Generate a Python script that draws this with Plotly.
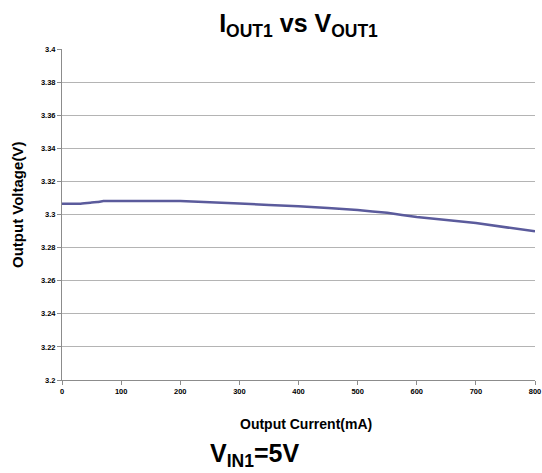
import plotly.graph_objects as go

current_ma = [0, 30, 50, 60, 70, 100, 200, 300, 400, 500, 550, 600, 700, 800]
voltage_v = [3.3065, 3.3065, 3.3073, 3.3075, 3.3081, 3.3081, 3.3081, 3.3066, 3.3050, 3.3027, 3.3010, 3.2985, 3.2948, 3.2898]

x_ticks = [0, 100, 200, 300, 400, 500, 600, 700, 800]
y_ticks = [3.2, 3.22, 3.24, 3.26, 3.28, 3.3, 3.32, 3.34, 3.36, 3.38, 3.4]
y_tick_labels = ["3.2", "3.22", "3.24", "3.26", "3.28", "3.3", "3.32", "3.34", "3.36", "3.38", "3.4"]

FONT = "Liberation Sans, Arial, sans-serif"

fig = go.Figure()
fig.add_trace(go.Scatter(
    x=current_ma, y=voltage_v, mode="lines",
    line=dict(color="#5b5b9c", width=2.5, shape="spline", smoothing=0.3),
    showlegend=False, hoverinfo="skip",
))

fig.update_layout(
    width=542, height=473,
    margin=dict(l=62, r=7, t=49, b=93),
    paper_bgcolor="white", plot_bgcolor="white",
    font=dict(family=FONT, color="black"),
    title=dict(
        text="<b>I<sub>OUT1</sub> vs V<sub>OUT1</sub></b>",
        font=dict(family=FONT, size=25, color="black"),
        x=0.5, xref="paper", xanchor="center",
        y=1 - 23 / 473, yref="container", yanchor="middle",
    ),
    showlegend=False,
)

fig.update_xaxes(
    range=[0, 800], tickvals=x_ticks, ticktext=[f"<b>{t}</b>" for t in x_ticks],
    tickfont=dict(family=FONT, size=7.5, color="black"),
    ticklabeloverflow="allow", automargin=False,
    showgrid=False, zeroline=False,
    showline=True, linecolor="#8c8c8c", linewidth=1,
    ticks="outside", ticklen=4, tickcolor="#8c8c8c",
    fixedrange=True,
)
fig.update_yaxes(
    range=[3.2, 3.4], tickvals=y_ticks, ticktext=[f"<b>{t}</b>" for t in y_tick_labels],
    tickfont=dict(family=FONT, size=7.5, color="black"),
    automargin=False,
    showgrid=True, gridcolor="#b4b4b4", gridwidth=1,
    zeroline=False,
    showline=True, linecolor="#8c8c8c", linewidth=1,
    ticks="outside", ticklen=4, tickcolor="#8c8c8c",
    fixedrange=True,
)

fig.add_annotation(
    text="<b>Output Current(mA)</b>", xref="paper", yref="paper",
    x=(306 - 62) / 473, y=0, yshift=-44, xanchor="center", yanchor="middle",
    showarrow=False, font=dict(family=FONT, size=14, color="black"),
)
fig.add_annotation(
    text="<b>Output Voltage(V)</b>", xref="paper", yref="paper",
    x=0, y=(380 - 205) / 331, xshift=-45, xanchor="center", yanchor="middle", textangle=-90,
    showarrow=False, font=dict(family=FONT, size=15, color="black"),
)
fig.add_annotation(
    text="<b>V<sub>IN1</sub>=5V</b>", xref="paper", yref="paper",
    x=(254 - 62) / 473, y=0, yshift=-75, xanchor="center", yanchor="middle",
    showarrow=False, font=dict(family=FONT, size=25, color="black"),
)

fig.write_html("out.html", config={"displayModeBar": False},
               post_script="document.body.style.margin='0';")
